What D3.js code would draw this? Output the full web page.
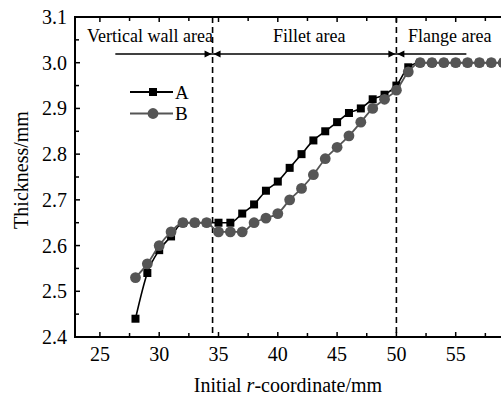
<!DOCTYPE html>
<html>
<head>
<meta charset="utf-8">
<script src="https://cdn.jsdelivr.net/npm/d3@7"></script>
<style>
  html, body { margin: 0; padding: 0; background: #fff; }
  svg { display: block; }
</style>
</head>
<body>
<svg id="chart" width="501" height="398"></svg>
<script>
// Initial radial coordinate (mm) of the sampled nodes
const rCoord = [28, 29, 30, 31, 32, 33, 34, 35, 36, 37, 38, 39, 40, 41, 42, 43,
                44, 45, 46, 47, 48, 49, 50, 51, 52, 53, 54, 55, 56, 57, 58, 59];
// Sheet thickness (mm), case A
const thickA = [2.44, 2.54, 2.59, 2.62, 2.65, 2.65, 2.65, 2.65, 2.65, 2.67, 2.69, 2.72,
                2.74, 2.77, 2.80, 2.83, 2.85, 2.87, 2.89, 2.90, 2.92, 2.93, 2.95, 2.99,
                3.00, 3.00, 3.00, 3.00, 3.00, 3.00, 3.00, 3.00];
// Sheet thickness (mm), case B
const thickB = [2.53, 2.56, 2.60, 2.63, 2.65, 2.65, 2.65, 2.63, 2.63, 2.63, 2.65, 2.66,
                2.67, 2.70, 2.725, 2.755, 2.79, 2.815, 2.84, 2.87, 2.90, 2.92, 2.94, 2.98,
                3.00, 3.00, 3.00, 3.00, 3.00, 3.00, 3.00, 3.00];
const seriesNames = ["A", "B"];

// Region boundaries and labels
const boundaries = [34.5, 50];
const regionNames = ["Vertical wall area", "Fillet area", "Flange area"];
const regionSpan = [26.3, 55.9];

const xTicks = [25, 30, 35, 40, 45, 50, 55];
const yTicks = [2.4, 2.5, 2.6, 2.7, 2.8, 2.9, 3.0, 3.1];

const FONT = '"Liberation Serif", "Times New Roman", serif';
const svg = d3.select("#chart");
const plotLeft = 75, plotTop = 17, plotBottom = 337;

const x = d3.scaleLinear().domain([22.9, 60]).range([plotLeft, 515]);
const y = d3.scaleLinear().domain([2.4, 3.1]).range([plotBottom, plotTop]);

const minorX = d3.range(27.5, 60, 5);
const minorY = d3.range(2.45, 3.1, 0.1);

// Frame lines
const frame = svg.append("g").attr("stroke", "#000").attr("stroke-width", 2).attr("fill", "none");
frame.append("line").attr("x1", plotLeft).attr("x2", 501).attr("y1", plotBottom).attr("y2", plotBottom);
frame.append("line").attr("x1", plotLeft).attr("x2", 501).attr("y1", plotTop).attr("y2", plotTop);
frame.append("line").attr("x1", plotLeft).attr("x2", plotLeft).attr("y1", plotTop - 1).attr("y2", plotBottom + 1);

// Inward ticks on bottom and top edges, and on the left edge
const tickG = svg.append("g").attr("stroke", "#000").attr("stroke-width", 1.5);
xTicks.concat(minorX).forEach(v => {
  const len = xTicks.includes(v) ? 5 : 4;
  tickG.append("line").attr("x1", x(v)).attr("x2", x(v)).attr("y1", plotBottom).attr("y2", plotBottom - len);
  tickG.append("line").attr("x1", x(v)).attr("x2", x(v)).attr("y1", plotTop).attr("y2", plotTop + len);
});
yTicks.concat(minorY).forEach(v => {
  const len = yTicks.some(t => Math.abs(t - v) < 1e-9) ? 5 : 4;
  tickG.append("line").attr("x1", plotLeft).attr("x2", plotLeft + len).attr("y1", y(v)).attr("y2", y(v));
});

// Tick labels
svg.append("g").selectAll("text").data(xTicks).join("text")
  .attr("x", d => x(d)).attr("y", 361)
  .attr("text-anchor", "middle").attr("font-size", 20).attr("fill", "#000")
  .style("font-family", FONT)
  .text(d => d);
svg.append("g").selectAll("text").data(yTicks).join("text")
  .attr("x", 67).attr("y", d => y(d) + 7)
  .attr("text-anchor", "end").attr("font-size", 20).attr("fill", "#000")
  .style("font-family", FONT)
  .text(d => d.toFixed(1));

// Axis titles
const xt = svg.append("text").attr("x", 288).attr("y", 392)
  .attr("text-anchor", "middle").attr("font-size", 20).attr("fill", "#000")
  .style("font-family", FONT);
xt.append("tspan").text("Initial ");
xt.append("tspan").attr("font-style", "italic").text("r");
xt.append("tspan").text("-coordinate/mm");

svg.append("text")
  .attr("transform", "translate(28,170) rotate(-90)")
  .attr("text-anchor", "middle").attr("font-size", 20).attr("fill", "#000")
  .style("font-family", FONT)
  .text("Thickness/mm");

// Region boundary lines
svg.append("g").selectAll("line").data(boundaries).join("line")
  .attr("x1", d => x(d)).attr("x2", d => x(d))
  .attr("y1", plotTop).attr("y2", plotBottom)
  .attr("stroke", "#000").attr("stroke-width", 1.6)
  .attr("stroke-dasharray", "6,4");

// Region span arrows
const arrowY = 54;
const ag = svg.append("g").attr("stroke", "#000").attr("stroke-width", 1.6);
ag.append("line").attr("x1", x(regionSpan[0])).attr("x2", x(regionSpan[1]))
  .attr("y1", arrowY).attr("y2", arrowY);
function head(px, dir) {
  // dir = +1 points right, -1 points left; tip at px
  svg.append("path")
    .attr("d", `M${px},${arrowY} L${px - dir * 7},${arrowY - 3.5} L${px - dir * 7},${arrowY + 3.5} Z`)
    .attr("fill", "#000");
}
boundaries.forEach(b => { head(x(b) - 1, 1); head(x(b) + 1, -1); });

// Region labels
const regionX = [87, 273, 408];
svg.append("g").selectAll("text").data(regionNames).join("text")
  .attr("x", (d, i) => regionX[i]).attr("y", 42)
  .attr("font-size", 18).attr("fill", "#000")
  .style("font-family", FONT)
  .text(d => d);

// Data series
const grey = "#555";
const line = d3.line().curve(d3.curveMonotoneX).x(d => x(d[0])).y(d => y(d[1]));
const dataA = rCoord.map((r, i) => [r, thickA[i]]);
const dataB = rCoord.map((r, i) => [r, thickB[i]]);

svg.append("path").datum(dataA).attr("d", line)
  .attr("fill", "none").attr("stroke", "#000").attr("stroke-width", 1.6);
svg.append("g").selectAll("rect").data(dataA).join("rect")
  .attr("x", d => x(d[0]) - 4).attr("y", d => y(d[1]) - 4)
  .attr("width", 8).attr("height", 8).attr("fill", "#000");

svg.append("path").datum(dataB).attr("d", line)
  .attr("fill", "none").attr("stroke", grey).attr("stroke-width", 1.8);
svg.append("g").selectAll("circle").data(dataB).join("circle")
  .attr("cx", d => x(d[0])).attr("cy", d => y(d[1])).attr("r", 5.4)
  .attr("fill", grey);

// Legend
const lg = svg.append("g");
[0, 1].forEach(i => {
  const ly = 92 + i * 21.5;
  const col = i === 0 ? "#000" : grey;
  lg.append("line").attr("x1", 130).attr("x2", 173).attr("y1", ly).attr("y2", ly)
    .attr("stroke", col).attr("stroke-width", 1.8);
  if (i === 0) {
    lg.append("rect").attr("x", 149).attr("y", ly - 4).attr("width", 8).attr("height", 8).attr("fill", col);
  } else {
    lg.append("circle").attr("cx", 153).attr("cy", ly).attr("r", 5.4).attr("fill", col);
  }
  lg.append("text").attr("x", 175).attr("y", ly + 6.5).attr("font-size", 19).attr("fill", "#000")
    .style("font-family", FONT)
    .text(seriesNames[i]);
});
</script>
</body>
</html>
